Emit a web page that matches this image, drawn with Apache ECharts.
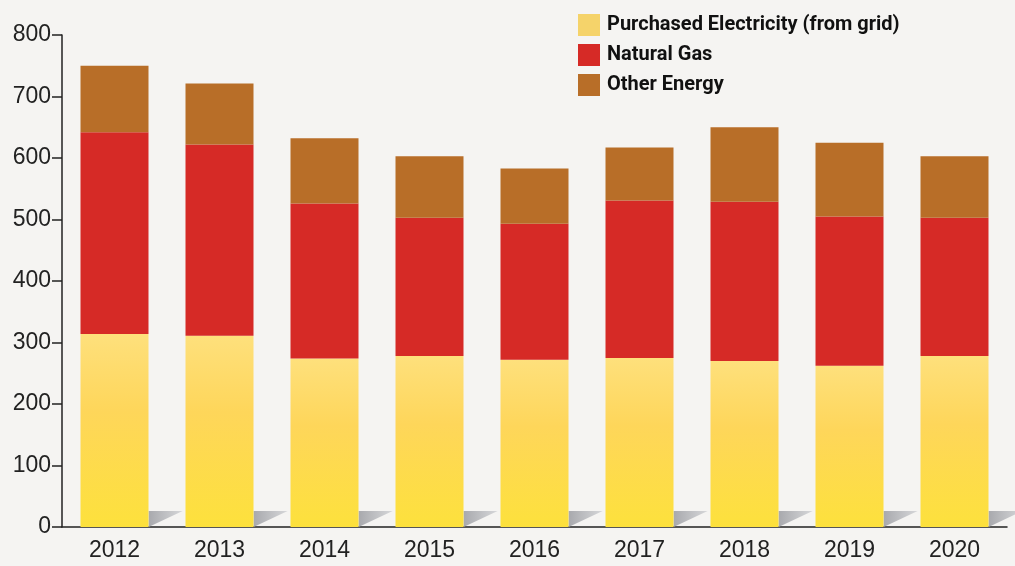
<!DOCTYPE html>
<html>
<head>
<meta charset="utf-8">
<script src="https://cdn.jsdelivr.net/npm/echarts@6/dist/echarts.min.js"></script>
<style>
  html, body { margin: 0; padding: 0; background: #f5f4f2; }
  #chart { width: 1015px; height: 566px; }
</style>
</head>
<body>
<div id="chart"></div>
<script>
// data
const years = ['2012', '2013', '2014', '2015', '2016', '2017', '2018', '2019', '2020'];
const electricity = [314, 311, 274, 278, 272, 275, 270, 262, 278];
const naturalGas = [328, 311, 252, 225, 221, 256, 259, 243, 225];
const otherEnergy = [108, 99, 106, 100, 90, 86, 121, 120, 100];

const myChart = echarts.init(document.getElementById('chart'));

// yellow bars have a warm gradient
const yellowFill = new echarts.graphic.LinearGradient(0, 1, 0, 0, [
  { offset: 0, color: '#fde13c' },
  { offset: 0.6, color: '#fed65a' },
  { offset: 1, color: '#fee07c' }
]);

const options = {
  backgroundColor: '#f5f4f2',
  animation: false,
  textStyle: { fontFamily: 'Liberation Sans' },
  grid: { left: 62, right: 8, top: 35, bottom: 39, containLabel: false },
  legend: {
    orient: 'vertical',
    left: 573,
    top: 9,
    itemWidth: 22,
    itemHeight: 22,
    itemGap: 8,
    icon: 'rect',
    textStyle: { fontFamily: 'Roboto', fontSize: 20, fontWeight: 'bold', color: '#111', padding: [0, 0, 0, 2] },
    data: [
      { name: 'Purchased Electricity (from grid)', itemStyle: { color: '#f5d36a' } },
      { name: 'Natural Gas', itemStyle: { color: '#d62a26' } },
      { name: 'Other Energy', itemStyle: { color: '#b86e28' } }
    ]
  },
  xAxis: {
    type: 'category',
    data: years,
    axisLine: { lineStyle: { color: '#222', width: 1.5 } },
    axisTick: { show: false },
    axisLabel: { color: '#222', fontSize: 23, margin: 12 }
  },
  yAxis: {
    type: 'value',
    min: 0,
    max: 800,
    interval: 100,
    splitLine: { show: false },
    axisLine: { show: true, lineStyle: { color: '#222', width: 1.5 } },
    axisTick: { show: true, length: 10, lineStyle: { color: '#222', width: 1.5 } },
    axisLabel: { color: '#222', fontSize: 23, margin: 11 }
  },
  series: [
    {
      // grey shadow wedge at the foot of each bar
      type: 'custom',
      silent: true,
      z: 1,
      data: electricity.map((v, i) => [i, 0]),
      renderItem: (params, api) => {
        const p = api.coord([api.value(0), 0]);
        const half = api.size([1, 0])[0] * 0.325;
        const x = p[0] + half;
        const y = p[1];
        return {
          type: 'polygon',
          shape: { points: [[x, y - 16], [x + 34, y - 16], [x, y]] },
          style: {
            fill: new echarts.graphic.LinearGradient(0, 0, 1, 0, [
              { offset: 0, color: '#a8a9ad' },
              { offset: 1, color: '#d6d7d9' }
            ])
          }
        };
      }
    },
    {
      name: 'Purchased Electricity (from grid)',
      type: 'bar',
      stack: 'energy',
      barWidth: 68,
      z: 2,
      itemStyle: { color: yellowFill },
      data: electricity
    },
    {
      name: 'Natural Gas',
      type: 'bar',
      stack: 'energy',
      barWidth: 68,
      z: 2,
      itemStyle: { color: '#d62a26' },
      data: naturalGas
    },
    {
      name: 'Other Energy',
      type: 'bar',
      stack: 'energy',
      barWidth: 68,
      z: 2,
      itemStyle: { color: '#b86e28' },
      data: otherEnergy
    }
  ]
};

myChart.setOption(options);
</script>
</body>
</html>
